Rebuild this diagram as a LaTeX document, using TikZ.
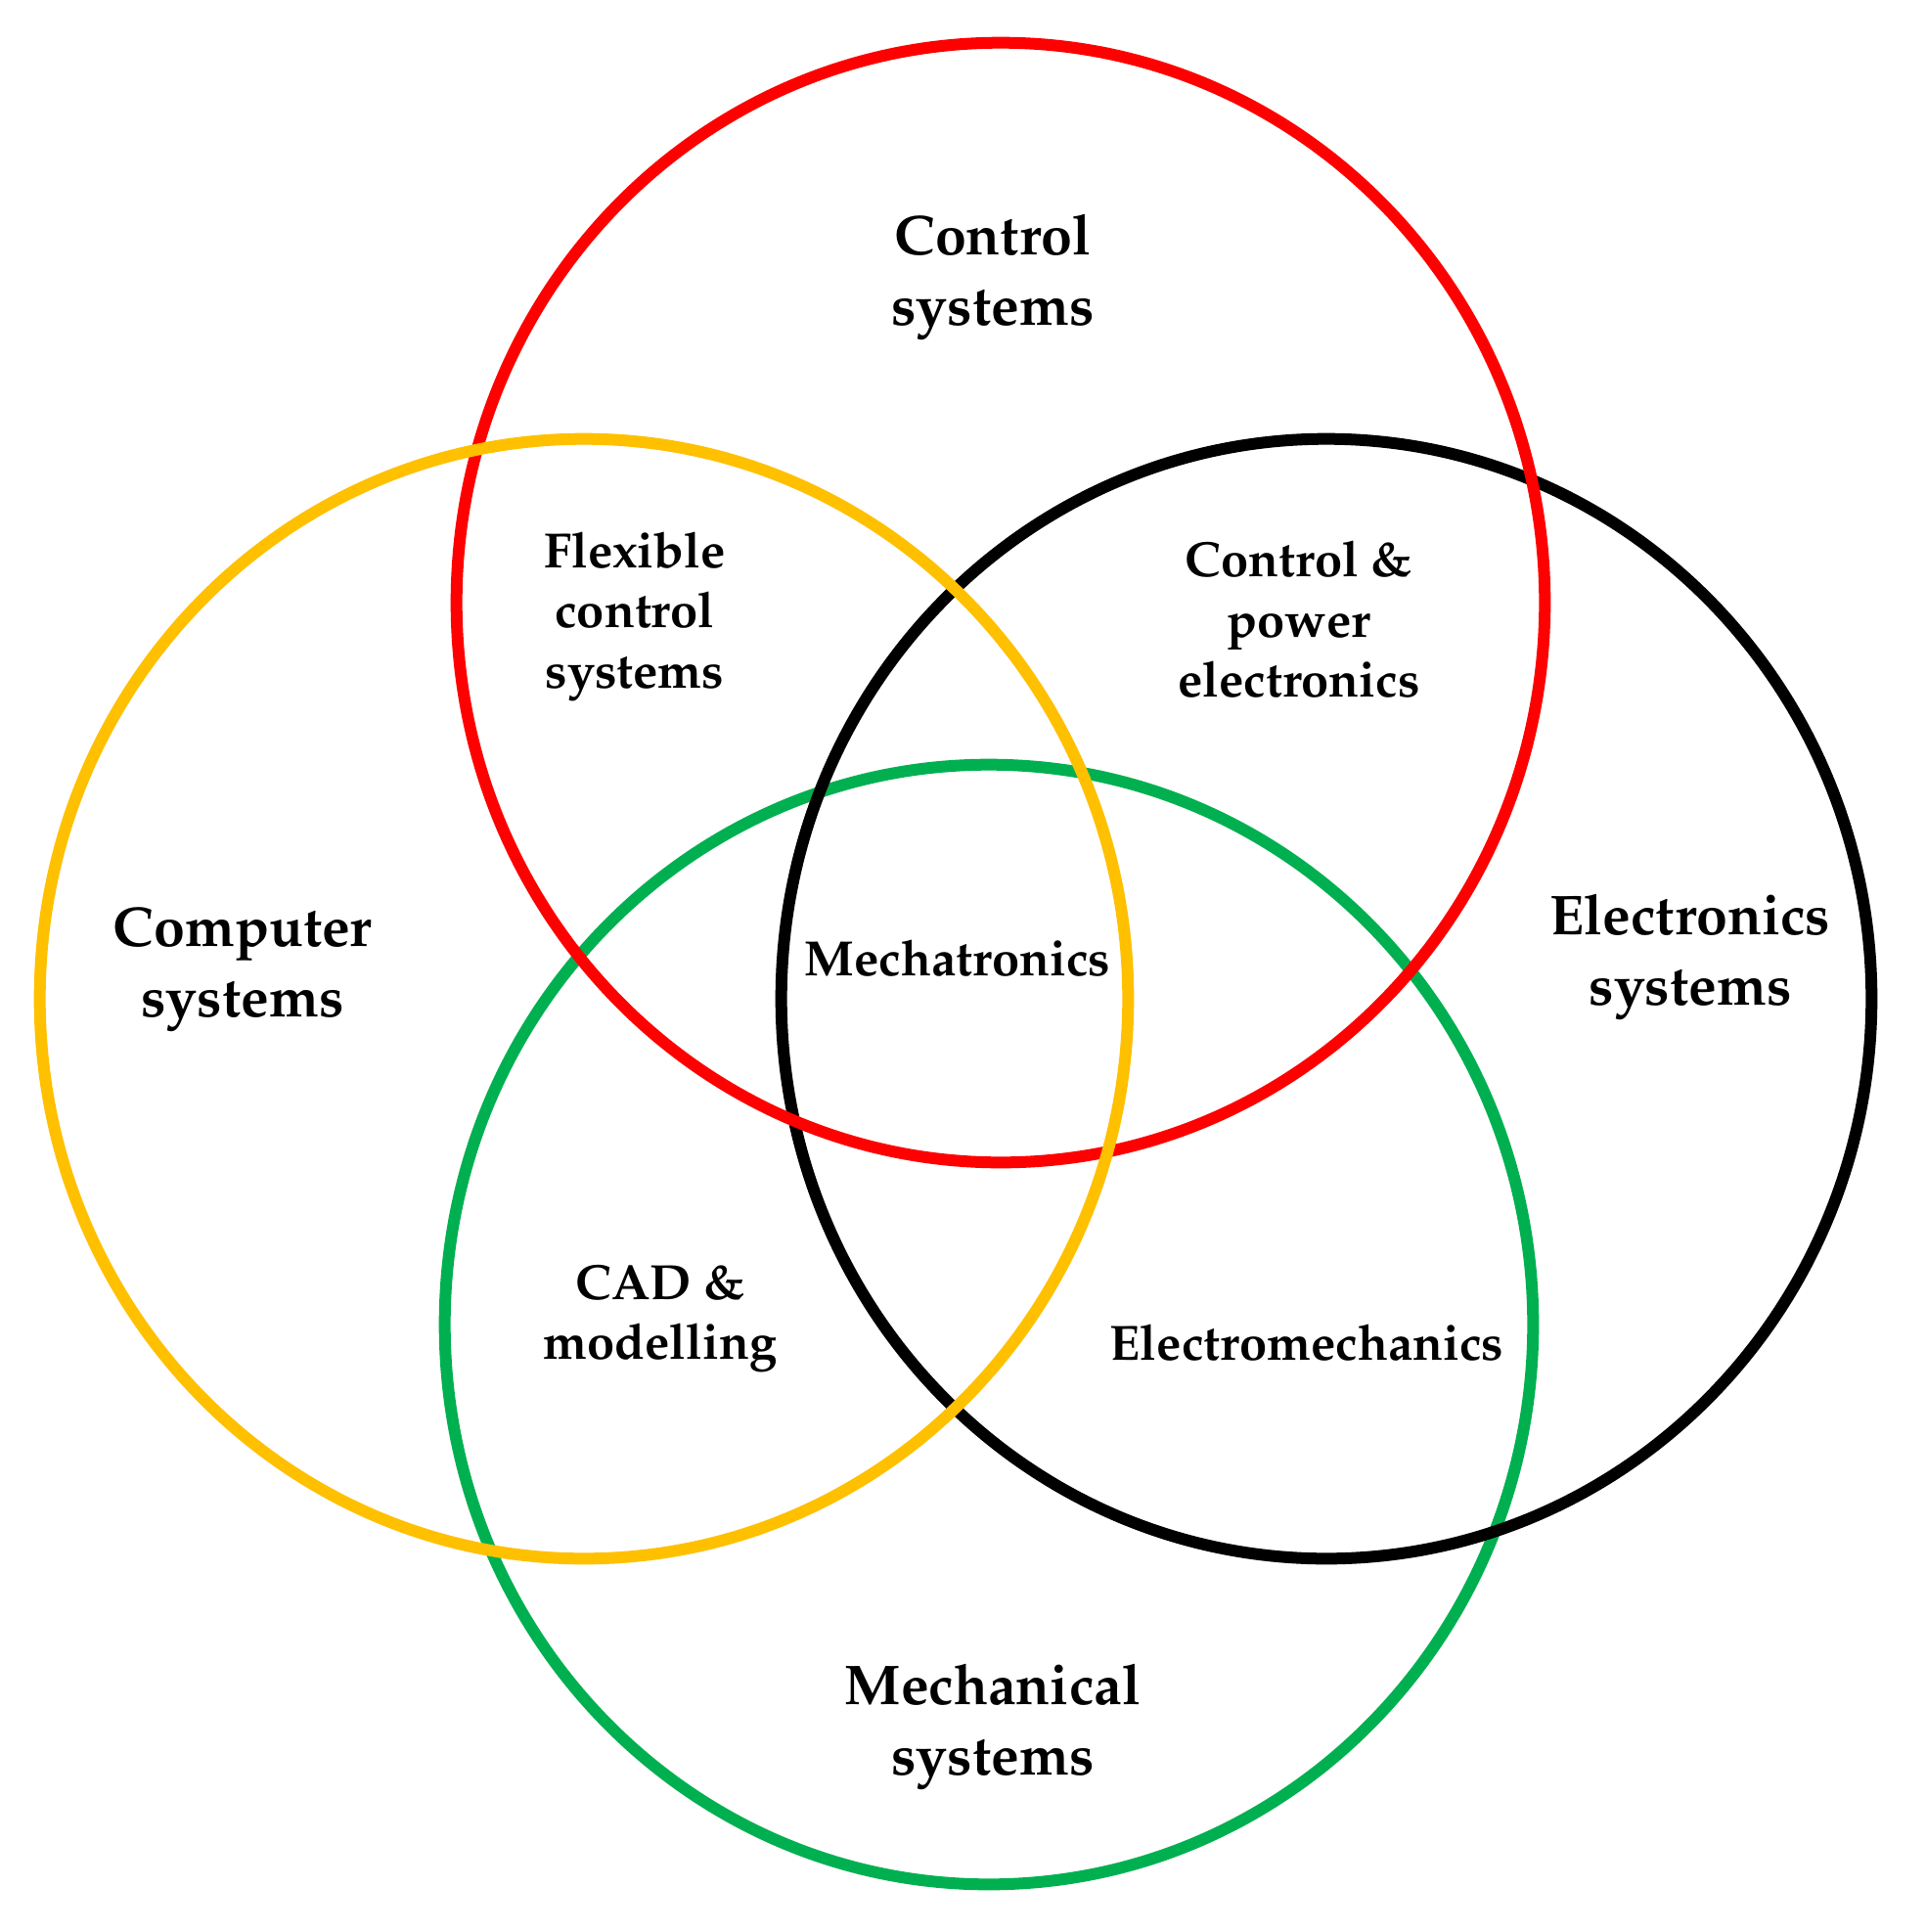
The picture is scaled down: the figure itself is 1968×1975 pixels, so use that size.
\documentclass[tikz,border=0pt]{standalone}
\usepackage[T1]{fontenc}
\usepackage{mathpazo}
\definecolor{cred}{HTML}{FF0000}
\definecolor{cyellow}{HTML}{FFC000}
\definecolor{cgreen}{HTML}{00B050}
\begin{document}
\begin{tikzpicture}[x=0.01cm,y=-0.01cm,
  ring/.style={line width=0.12cm},
  big/.style={font=\fontsize{16.3}{20.5}\selectfont\bfseries, align=center, inner sep=0pt},
  small/.style={font=\fontsize{14.4}{17.4}\selectfont\bfseries, align=center, inner sep=0pt}]
\useasboundingbox[fill=white] (0,0) rectangle (1968,1975);
\draw[ring, cgreen] (1011,1354) ellipse [x radius=5.56cm, y radius=5.72cm];
\draw[ring, black] (1356,1021) ellipse [x radius=5.57cm, y radius=5.72cm];
\draw[ring, cred] (1023,616) ellipse [x radius=5.56cm, y radius=5.72cm];
\draw[ring, cyellow] (597,1021) ellipse [x radius=5.56cm, y radius=5.72cm];
\node[big] (ctrl) at (1015,283) {Control\\systems};
\node[small] (flex) at (649,630) {Flexible\\control\\systems};
\node[small] (cpe) at (1328,633) {Control \&\\power\\electronics};
\node[big] (comp) at (248,991) {Computer\\systems};
\node[small] (mech) at (979,979) {Mechatronics};
\node[big] (elec) at (1728,978) {Electronics\\systems};
\node[small] (cad) at (675,1348) {CAD \&\\modelling};
\node[small] (emech) at (1336,1372) {Electromechanics};
\node[big] (mechsys) at (1015,1765) {Mechanical\\systems};
\end{tikzpicture}
\end{document}
